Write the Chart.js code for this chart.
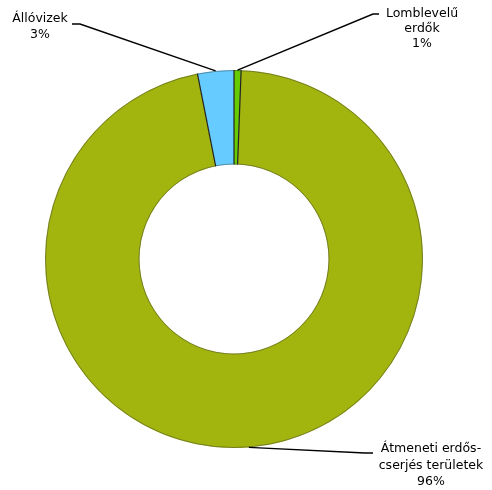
<!DOCTYPE html>
<html>
<head>
<meta charset="utf-8">
<script src="https://cdn.jsdelivr.net/npm/chart.js@4/dist/chart.umd.min.js"></script>
<style>
html,body{margin:0;padding:0;background:#fff;}
#wrap{width:492px;height:490px;position:relative;}
</style>
</head>
<body>
<div id="wrap"><canvas id="c" width="492" height="490"></canvas></div>
<script>
const categories = ["Lomblevelű erdők", "Átmeneti erdős-cserjés területek", "Állóvizek"];
const values = [0.6, 96.3, 3.1];
const percentLabels = ["1%", "96%", "3%"];
const colors = ["#66CC00", "#A2B40E", "#66CCFF"];

// label layout: text lines, text center, elbow point, text anchor end of line
const labelLayout = [
  {lines: ["Lomblevelű", "erdők", "1%"], cx: 422, y: 14, dy: 15, elbow: {x: 373, y: 14}, end: {x: 379, y: 14}},
  {lines: ["Átmeneti erdős-", "cserjés területek", "96%"], cx: 431, y: 449, dy: 16.5, elbow: {x: 365, y: 453}, end: {x: 373, y: 453}},
  {lines: ["Állóvizek", "3%"], cx: 40, y: 19, dy: 16, elbow: {x: 80, y: 24}, end: {x: 72, y: 24}}
];

const labelPlugin = {
  id: 'leaderLabels',
  afterDatasetsDraw(chart) {
    const ctx = chart.ctx;
    const meta = chart.getDatasetMeta(0);
    ctx.save();
    // thin outer/inner edge
    const a0 = meta.data[0];
    ctx.strokeStyle = 'rgba(60,60,60,0.45)';
    ctx.lineWidth = 1;
    ctx.beginPath(); ctx.arc(a0.x, a0.y, a0.outerRadius - 0.5, 0, Math.PI * 2); ctx.stroke();
    ctx.beginPath(); ctx.arc(a0.x, a0.y, a0.innerRadius + 0.5, 0, Math.PI * 2); ctx.stroke();
    // slice separators
    ctx.strokeStyle = '#222';
    ctx.lineWidth = 1.2;
    meta.data.forEach(arc => {
      const a = arc.startAngle;
      ctx.beginPath();
      ctx.moveTo(arc.x + Math.cos(a) * arc.innerRadius, arc.y + Math.sin(a) * arc.innerRadius);
      ctx.lineTo(arc.x + Math.cos(a) * arc.outerRadius, arc.y + Math.sin(a) * arc.outerRadius);
      ctx.stroke();
    });
    meta.data.forEach((arc, i) => {
      const L = labelLayout[i];
      const mid = (arc.startAngle + arc.endAngle) / 2;
      const ax = arc.x + Math.cos(mid) * arc.outerRadius;
      const ay = arc.y + Math.sin(mid) * arc.outerRadius;
      ctx.strokeStyle = '#000';
      ctx.lineWidth = 1.4;
      ctx.beginPath();
      ctx.moveTo(ax, ay);
      ctx.lineTo(L.elbow.x, L.elbow.y);
      ctx.lineTo(L.end.x, L.end.y);
      ctx.stroke();
      ctx.fillStyle = '#000';
      ctx.font = '12.5px "DejaVu Sans", Verdana, sans-serif';
      ctx.textAlign = 'center';
      ctx.textBaseline = 'middle';
      const lines = L.lines.slice(0, -1).concat([percentLabels[i]]);
      lines.forEach((t, k) => ctx.fillText(t, L.cx, L.y + k * L.dy));
    });
    ctx.restore();
  }
};

new Chart(document.getElementById('c'), {
  type: 'doughnut',
  data: {
    labels: categories,
    datasets: [{
      data: values,
      backgroundColor: colors,
      borderWidth: 0
    }]
  },
  options: {
    responsive: false,
    animation: false,
    cutout: '50%',
    layout: {padding: {left: 45, right: 69, top: 70, bottom: 42}},
    plugins: {legend: {display: false}, tooltip: {enabled: false}}
  },
  plugins: [labelPlugin]
});
</script>
</body>
</html>
